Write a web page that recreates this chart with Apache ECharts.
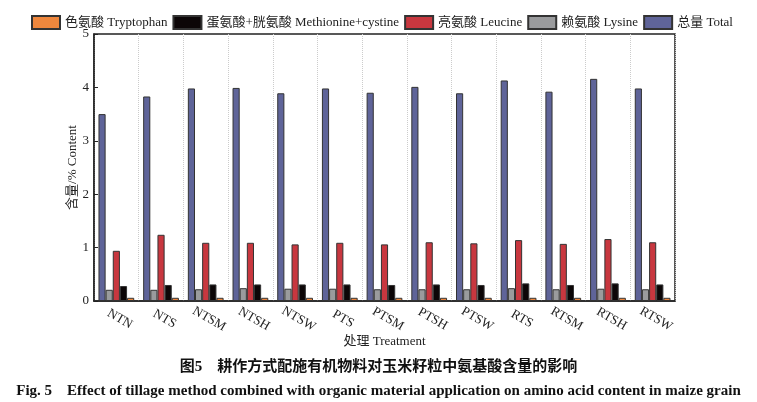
<!DOCTYPE html>
<html>
<head>
<meta charset="utf-8">
<script src="https://cdn.jsdelivr.net/npm/echarts@6/dist/echarts.min.js"></script>
<style>
  html, body { margin: 0; padding: 0; background: #fff; }
  #main { width: 757px; height: 402px; }
</style>
</head>
<body>
<div id="main"></div>
<script>
  // treatments on the x axis
  var categories = ['NTN', 'NTS', 'NTSM', 'NTSH', 'NTSW', 'PTS', 'PTSM', 'PTSH', 'PTSW', 'RTS', 'RTSM', 'RTSH', 'RTSW'];

  // content, %
  var total      = [3.50, 3.83, 3.98, 3.99, 3.89, 3.98, 3.90, 4.01, 3.89, 4.13, 3.92, 4.16, 3.98];
  var lysine     = [0.21, 0.21, 0.22, 0.24, 0.23, 0.23, 0.22, 0.22, 0.22, 0.24, 0.22, 0.23, 0.22];
  var leucine    = [0.94, 1.24, 1.09, 1.09, 1.06, 1.09, 1.06, 1.10, 1.08, 1.14, 1.07, 1.16, 1.10];
  var metCys     = [0.28, 0.30, 0.31, 0.31, 0.31, 0.31, 0.30, 0.31, 0.30, 0.33, 0.30, 0.33, 0.31];
  var tryptophan = [0.06, 0.06, 0.06, 0.06, 0.06, 0.06, 0.06, 0.06, 0.06, 0.06, 0.06, 0.06, 0.06];

  var yTicks = [0, 1, 2, 3, 4, 5];

  var serif = "'Liberation Serif', 'Noto Sans CJK SC', serif";

  var myChart = echarts.init(document.getElementById('main'));

  function bar(name, data, color) {
    return {
      name: name,
      type: 'bar',
      data: data,
      barGap: '0%',
      barCategoryGap: '20%',
      itemStyle: { color: color, borderColor: '#333', borderWidth: 1 }
    };
  }

  var options = {
    backgroundColor: '#fff',
    animation: false,
    textStyle: { fontFamily: serif },
    title: [
      {
        text: '图5　耕作方式配施有机物料对玉米籽粒中氨基酸含量的影响',
        left: 'center', top: 355,
        textStyle: { fontFamily: serif, fontSize: 15, fontWeight: 'bold', color: '#111' }
      },
      {
        text: 'Fig. 5　Effect of tillage method combined with organic material application on amino acid content in maize grain',
        left: 'center', top: 379,
        textStyle: { fontFamily: serif, fontSize: 15, fontWeight: 'bold', color: '#111' }
      }
    ],
    legend: {
      left: 26, top: 10,
      icon: 'rect',
      itemWidth: 28, itemHeight: 13, itemGap: 5,
      data: ['色氨酸 Tryptophan', '蛋氨酸+胱氨酸 Methionine+cystine', '亮氨酸 Leucine', '赖氨酸 Lysine', '总量 Total'],
      textStyle: { fontFamily: serif, fontSize: 13, color: '#222' }
    },
    grid: {
      left: 94, right: 82, top: 34, bottom: 101,
      show: true, borderColor: '#222', borderWidth: 1.5, backgroundColor: 'transparent'
    },
    xAxis: {
      type: 'category',
      data: categories,
      name: '处理 Treatment',
      nameLocation: 'middle',
      nameGap: 34,
      nameMoveOverlap: false,
      nameTextStyle: { fontFamily: serif, fontSize: 13, color: '#222' },
      axisLine: { lineStyle: { color: '#222', width: 1.5 } },
      axisTick: { show: false },
      axisLabel: {
        rotate: -30, align: 'center', verticalAlign: 'middle', margin: 16,
        fontFamily: serif, fontSize: 13, color: '#222', padding: [0, 0, 0, 8]
      },
      splitLine: { show: true, lineStyle: { color: '#ccc', type: 'dotted', width: 1 } }
    },
    yAxis: {
      type: 'value',
      min: yTicks[0], max: yTicks[yTicks.length - 1], interval: 1,
      name: '含量/% Content',
      nameLocation: 'middle',
      nameGap: 15,
      nameMoveOverlap: false,
      nameTextStyle: { fontFamily: serif, fontSize: 13, color: '#222' },
      axisLine: { show: true, lineStyle: { color: '#222', width: 1.5 } },
      axisTick: { show: true, inside: true, length: 4, lineStyle: { color: '#222' } },
      axisLabel: { margin: 5, fontFamily: serif, fontSize: 13, color: '#222' },
      splitLine: { show: false }
    },
    series: [
      bar('总量 Total', total, '#5f6499'),
      bar('赖氨酸 Lysine', lysine, '#9a9b9d'),
      bar('亮氨酸 Leucine', leucine, '#c8373f'),
      bar('蛋氨酸+胱氨酸 Methionine+cystine', metCys, '#0c0607'),
      bar('色氨酸 Tryptophan', tryptophan, '#ef873d')
    ]
  };
  myChart.setOption(options);
</script>
</body>
</html>
